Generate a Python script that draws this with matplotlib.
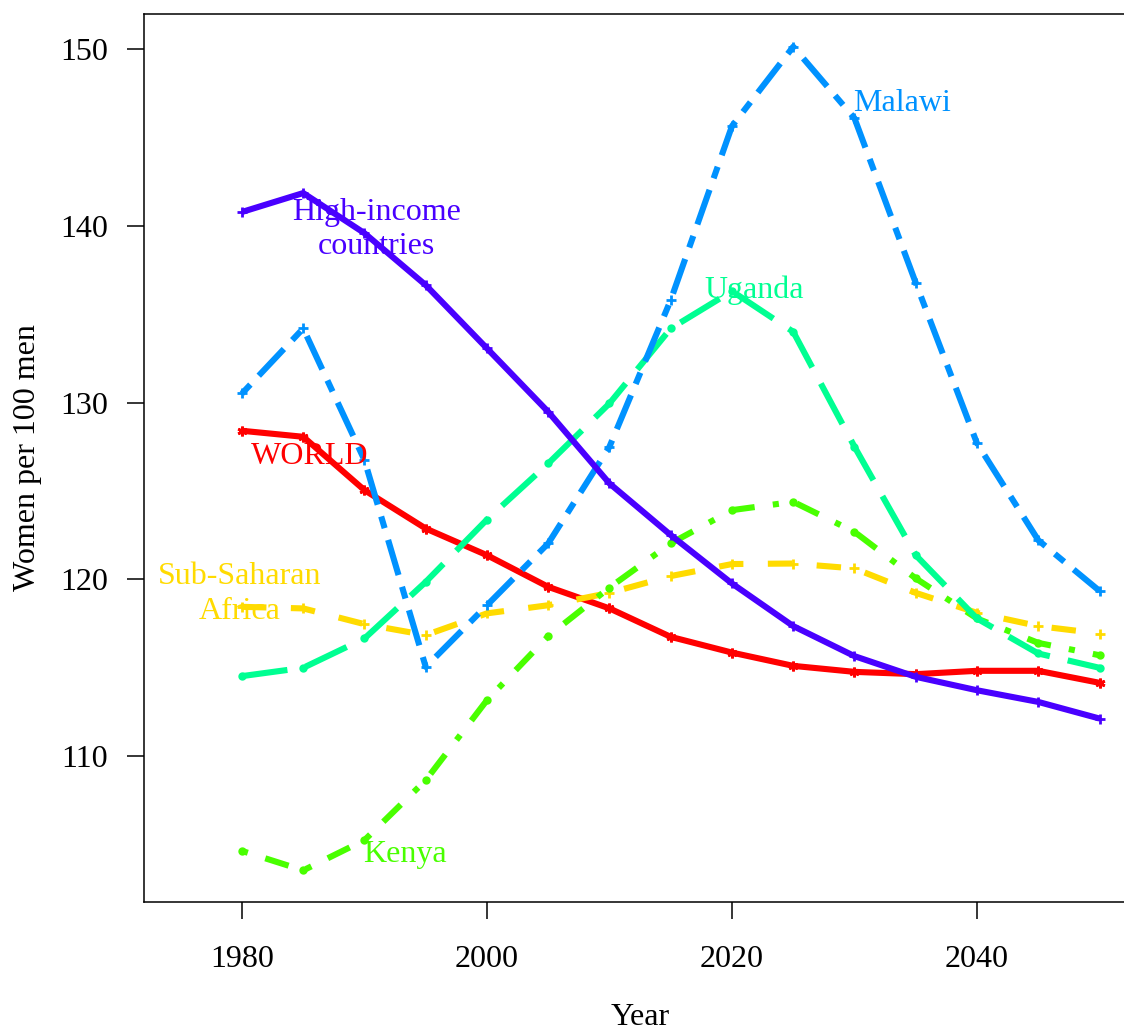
import numpy as np
import matplotlib
matplotlib.use("Agg")
import matplotlib.pyplot as plt

plt.rcParams['font.family'] = ['Liberation Serif', 'DejaVu Serif']

# data (women per 100 men)
years = [1980, 1985, 1990, 1995, 2000, 2005, 2010, 2015, 2020, 2025, 2030, 2035, 2040, 2045, 2050]
world = [128.4, 128.06, 125.04, 122.87, 121.36, 119.57, 118.35, 116.74, 115.85, 115.1, 114.76, 114.63, 114.82, 114.82, 114.14]
sub_saharan = [118.44, 118.35, 117.46, 116.84, 118.07, 118.53, 119.23, 120.18, 120.86, 120.89, 120.61, 119.23, 118.1, 117.35, 116.93]
kenya = [104.63, 103.53, 105.24, 108.63, 113.16, 116.78, 119.53, 122.03, 123.91, 124.38, 122.68, 120.05, 117.78, 116.4, 115.7]
uganda = [114.52, 114.99, 116.65, 119.85, 123.38, 126.55, 129.95, 134.19, 136.3, 134.0, 127.5, 121.36, 117.78, 115.8, 114.99]
malawi = [130.51, 134.19, 126.74, 115.04, 118.53, 122.03, 127.5, 135.8, 145.64, 150.13, 146.08, 136.77, 127.69, 122.21, 119.34]
high_income = [140.78, 141.85, 139.58, 136.64, 133.06, 129.47, 125.42, 122.5, 119.76, 117.35, 115.65, 114.48, 113.72, 113.06, 112.12]

names = ["WORLD", "Sub-Saharan\nAfrica", "Kenya", "Uganda", "Malawi", "High-income\ncountries"]
series = [world, sub_saharan, kenya, uganda, malawi, high_income]
colors = ["#FF0000", "#FFDB00", "#49FF00", "#00FF92", "#0092FF", "#4900FF"]
# label positions (year, value)
label_x = [1985.5, 1979.8, 1993.3, 2021.8, 2033.9, 1991.0]
label_y = [126.97, 119.16, 104.4, 136.36, 146.94, 139.8]

# dash patterns in units of line width (R lty style)
dashes = [None, (4, 4), (1, 3, 4, 3), (7.5, 3), (2, 2, 6, 2), None]
markers = [(6, 2, 0), "+", "o", "o", "+", "+"]

fig = plt.figure(figsize=(11.24, 10.34), dpi=100)
ax = fig.add_axes([0.1281, 0.12766, 0.8828, 0.8588])

for vals, col, d, m in zip(series, colors, dashes, markers):
    line, = ax.plot(years, vals, color=col, lw=4.4, solid_capstyle="butt",
                    dash_capstyle="butt", marker=m, markersize=4 if m == "o" else 7,
                    markeredgewidth=2, markerfacecolor=col, markeredgecolor=col)
    if d is not None:
        line.set_dashes(d)

for name, lx, ly, col in zip(names, label_x, label_y, colors):
    ax.text(lx, ly, name, color=col, fontsize=23, ha="center", va="center",
            linespacing=1.25)

ax.set_xlim(1972, 2053)
ax.set_ylim(101.74, 151.98)
ax.set_xticks([1980, 2000, 2020, 2040])
ax.set_yticks([110, 120, 130, 140, 150])
ax.tick_params(axis="x", length=12, width=1.1, pad=19, labelsize=23)
ax.tick_params(axis="y", length=12, width=1.1, pad=14, labelsize=23)
for s in ax.spines.values():
    s.set_linewidth(1.1)

ax.set_xlabel("Year", fontsize=23, labelpad=21)
ax.set_ylabel("Women per 100 men", fontsize=23, labelpad=13)

fig.savefig("out.png", dpi=100)
